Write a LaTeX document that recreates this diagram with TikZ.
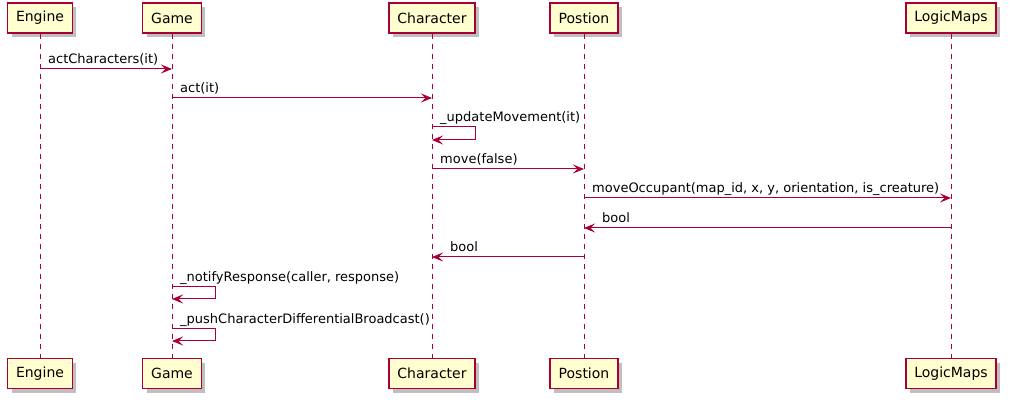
\documentclass[tikz,border=0pt]{standalone}
\usepackage{fontspec}
\setmainfont{DejaVu Sans}
\usepackage{tikz}
\usetikzlibrary{positioning, arrows.meta, calc, shadows}
\definecolor{umlred}{HTML}{A80036}
\definecolor{umlfill}{HTML}{FEFECE}
\tikzstyle{actor} = [draw=umlred, line width=1.5pt, fill=umlfill, minimum height=30pt, inner xsep=8.5pt, inner ysep=0pt, font=\fontsize{14}{16}\selectfont, drop shadow={shadow xshift=4pt, shadow yshift=-4pt, fill=black, opacity=0.25}]
\tikzstyle{life} = [umlred, line width=1pt, dash pattern=on 5pt off 5pt]
\tikzstyle{msg} = [umlred, line width=1pt, -{Stealth[length=11pt, width=9pt, inset=4.5pt]}]
\tikzstyle{lbl} = [black, anchor=base west, inner sep=0pt, font=\fontsize{13}{15}\selectfont]

\begin{document}
\begin{tikzpicture}[x=1pt, y=-1pt]
    \useasboundingbox (0,0) rectangle (1013,406);
    % participants
    \foreach \id/\name/\x in {eng/Engine/40, gam/Game/172, chr/Character/432, pos/Postion/584, lgm/LogicMaps/951}{
        \node[actor] (\id T) at (\x,18) {\name};
        \node[actor] (\id B) at (\x,373.5) {\name};
        \draw[life] (\id T.south) -- (\id B.north);
    }
    % message rows
    \foreach \r/\y in {1/69, 2/98, 3/127, 3b/140, 4/169, 5/198, 6/228, 7/257, 8/286.5, 8b/299, 9/328.5, 9b/341}{
        \coordinate (r\r) at (0,\y);
    }
    \draw[msg] (engT |- r1) -- (gamT |- r1);
    \node[lbl] at ($(engT |- r1)+(8,-5)$) {actCharacters(it)};
    \draw[msg] (gamT |- r2) -- (chrT |- r2);
    \node[lbl] at ($(gamT |- r2)+(8,-5)$) {act(it)};
    \draw[msg] (chrT |- r3) -- ++(43,0) |- (chrT |- r3b);
    \node[lbl] at ($(chrT |- r3)+(8,-5)$) {\_updateMovement(it)};
    \draw[msg] (chrT |- r4) -- (posT |- r4);
    \node[lbl] at ($(chrT |- r4)+(8,-5)$) {move(false)};
    \draw[msg] (posT |- r5) -- (lgmT |- r5);
    \node[lbl] at ($(posT |- r5)+(8,-5)$) {moveOccupant(map\_id, x, y, orientation, is\_creature)};
    \draw[msg] (lgmT |- r6) -- (posT |- r6);
    \node[lbl] at ($(posT |- r6)+(18,-5)$) {bool};
    \draw[msg] (posT |- r7) -- (chrT |- r7);
    \node[lbl] at ($(chrT |- r7)+(18,-5)$) {bool};
    \draw[msg] (gamT |- r8) -- ++(43,0) |- (gamT |- r8b);
    \node[lbl] at ($(gamT |- r8)+(8,-5)$) {\_notifyResponse(caller, response)};
    \draw[msg] (gamT |- r9) -- ++(43,0) |- (gamT |- r9b);
    \node[lbl] at ($(gamT |- r9)+(8,-5)$) {\_pushCharacterDifferentialBroadcast()};
\end{tikzpicture}
\end{document}
